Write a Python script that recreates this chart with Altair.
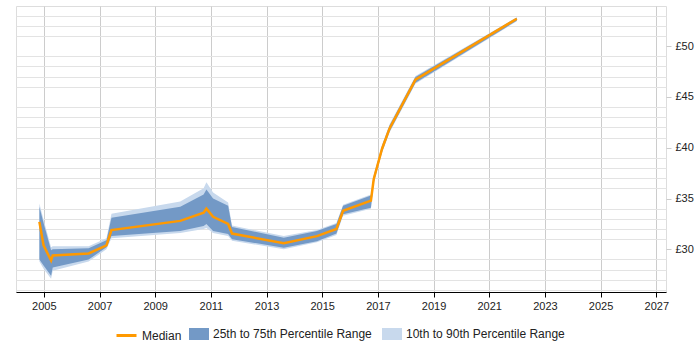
import altair as alt
import pandas as pd

# Hourly rate percentiles over time (GBP)
years = [2004.84, 2004.99, 2005.26, 2005.32, 2006.61, 2007.25, 2007.43, 2009.90,
         2010.74, 2010.84, 2011.08, 2011.62, 2011.76, 2013.62, 2014.81, 2015.51,
         2015.75, 2016.75, 2016.85, 2017.15, 2017.42, 2018.35, 2021.99]
median = [32.7, 30.4, 28.9, 29.4, 29.6, 30.4, 31.9, 32.8,
          33.6, 34.0, 33.2, 32.5, 31.55, 30.6, 31.3, 32.0,
          33.8, 34.8, 36.9, 39.9, 41.9, 46.7, 52.7]
p25 = [29.0, 28.4, 27.4, 28.2, 29.0, 30.2, 31.3, 31.8,
       32.3, 32.5, 31.8, 31.5, 31.0, 30.15, 30.8, 31.55,
       33.45, 34.1, 36.6, 39.6, 41.6, 46.4, 52.5]
p75 = [34.2, 32.6, 29.9, 30.0, 30.1, 30.9, 33.1, 34.2,
       35.4, 35.9, 35.0, 34.3, 32.2, 31.15, 31.8, 32.5,
       34.3, 35.3, 37.2, 40.2, 42.2, 46.95, 52.8]
p10 = [28.8, 28.1, 27.1, 27.9, 28.8, 30.0, 31.1, 31.6,
       32.0, 32.1, 31.6, 31.3, 30.85, 30.0, 30.7, 31.4,
       33.3, 34.0, 36.5, 39.5, 41.5, 46.3, 52.45]
p90 = [34.5, 32.9, 30.2, 30.3, 30.3, 31.1, 33.5, 34.7,
       36.0, 36.6, 35.6, 34.6, 32.35, 31.3, 31.9, 32.6,
       34.4, 35.4, 37.3, 40.3, 42.3, 47.05, 52.85]

median_name = ["Median"]
median_color = ["#ff9900"]
range_names = ["25th to 75th Percentile Range", "10th to 90th Percentile Range"]
range_colors = ["#7399c6", "#c8d9ed"]

x_ticks = [2005, 2007, 2009, 2011, 2013, 2015, 2017, 2019, 2021, 2023, 2025, 2027]
y_major = [30, 35, 40, 45, 50]
y_minor = [v for v in range(26, 54) if v not in y_major]

df = pd.DataFrame({"year": years, "median": median, "p25": p25, "p75": p75,
                   "p10": p10, "p90": p90})

x_scale = alt.Scale(domain=[2004.0, 2027.35], nice=False, zero=False)
y_scale = alt.Scale(domain=[25.8, 53.95], nice=False, zero=False)

legend_style = dict(
    title=None, orient="none", direction="horizontal",
    labelFont="Liberation Sans", labelFontSize=12, labelColor="#222",
    labelLimit=300, symbolSize=400, symbolOffset=0,
)

fill = alt.Fill(
    "series:N",
    scale=alt.Scale(domain=range_names, range=range_colors),
    legend=alt.Legend(legendX=173, legendY=318, columnPadding=10,
                      symbolType="M-1,-0.6H1V0.6H-1Z", symbolStrokeWidth=0,
                      **legend_style),
)

stroke = alt.Stroke(
    "series:N",
    scale=alt.Scale(domain=median_name, range=median_color),
    legend=alt.Legend(legendX=99, legendY=318, symbolType="stroke",
                      symbolStrokeWidth=3, **legend_style),
)

x_enc = alt.X(
    "year:Q", scale=x_scale, title=None,
    axis=alt.Axis(values=x_ticks, format="d", labelFont="Liberation Sans",
                  labelFontSize=11, labelColor="#222", domainColor="#000",
                  tickColor="#000", tickSize=5, gridColor="#cccccc",
                  gridOpacity=1, labelPadding=3),
)

# labelled axis with major gridlines on the right
y_axis_major = alt.Axis(
    values=y_major, orient="right", domain=False, labelOverlap=False,
    labelExpr="'£' + datum.value",
    labelFont="Liberation Sans", labelFontSize=11, labelColor="#222",
    tickSize=5, tickColor="#cccccc", labelPadding=4, gridColor="#cccccc",
    gridOpacity=1,
)

# unlabelled axis carrying only the minor gridlines
y_axis_minor = alt.Axis(
    values=y_minor, orient="left", domain=False, labels=False, ticks=False,
    grid=True, gridColor="#e3e3e3", gridOpacity=1, gridWidth=1,
)

base = alt.Chart(df)

outer = base.transform_calculate(series="'10th to 90th Percentile Range'").mark_area(
    opacity=1
).encode(
    x=x_enc,
    y=alt.Y("p10:Q", scale=y_scale, axis=y_axis_minor, title=None),
    y2="p90:Q",
    fill=fill,
)

inner = base.transform_calculate(series="'25th to 75th Percentile Range'").mark_area(
    opacity=1
).encode(
    x="year:Q",
    y=alt.Y("p25:Q", scale=y_scale, axis=y_axis_major, title=None),
    y2="p75:Q",
    fill=fill,
)

line = base.transform_calculate(series="'Median'").mark_line(
    strokeWidth=2.5
).encode(
    x="year:Q",
    y=alt.Y("median:Q", axis=None),
    stroke=stroke,
)

chart = alt.layer(outer, inner, line).resolve_axis(y="independent").properties(
    width=650, height=286,
    autosize=alt.AutoSizeParams(type="none"),
    padding={"left": 16, "top": 6, "right": 34, "bottom": 58},
).configure_view(stroke=None).configure(background="white")

chart.save("out.html", embed_options={"renderer": "svg", "actions": False})
